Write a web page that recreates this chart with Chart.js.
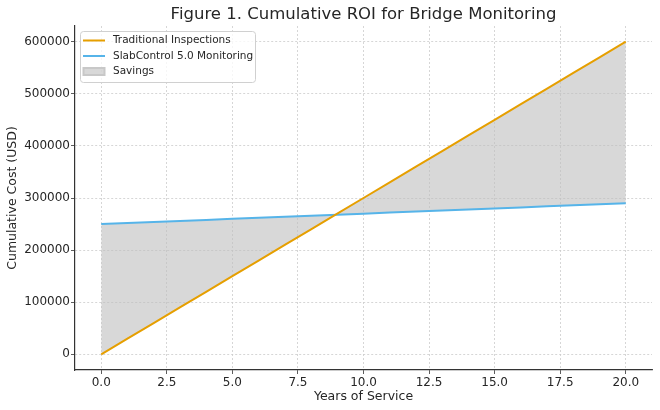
<!DOCTYPE html>
<html lang="en">
<head>
  <meta charset="UTF-8" />
  <title>Cumulative ROI for Bridge Monitoring</title>
  <script src="https://cdn.jsdelivr.net/npm/chart.js"></script>
  <style>
    html, body { margin: 0; padding: 0; background: #fff; }
    #wrap { width: 660px; height: 410px; }
  </style>
</head>
<body>
  <div id="wrap"><canvas id="roiChart"></canvas></div>

  <script>
    // values
    const years = [0, 1, 2, 3, 4, 5, 6, 7, 8, 9, 10, 11, 12, 13, 14, 15, 16, 17, 18, 19, 20];
    const traditional = [0, 30000, 60000, 90000, 120000, 150000, 180000, 210000, 240000, 270000,
      300000, 330000, 360000, 390000, 420000, 450000, 480000, 510000, 540000, 570000, 600000];
    const slabControl = [250000, 252000, 254000, 256000, 258000, 260000, 262000, 264000, 266000, 268000,
      270000, 272000, 274000, 276000, 278000, 280000, 282000, 284000, 286000, 288000, 290000];
    const xTicks = [0, 2.5, 5, 7.5, 10, 12.5, 15, 17.5, 20];
    const yTicks = [0, 100000, 200000, 300000, 400000, 500000, 600000];

    const FONT = "'DejaVu Sans', sans-serif";
    const ORANGE = '#E69F00';
    const BLUE = '#56B4E9';
    const GREY_FILL = 'rgba(190,190,190,0.6)';

    // title centred over the plot area, like matplotlib
    const titlePlugin = {
      id: 'plotTitle',
      afterDraw(chart) {
        const { ctx, chartArea } = chart;
        ctx.save();
        ctx.font = '16.5px ' + FONT;
        ctx.fillStyle = '#262626';
        ctx.textAlign = 'center';
        ctx.textBaseline = 'middle';
        ctx.fillText('Figure 1. Cumulative ROI for Bridge Monitoring', (chartArea.left + chartArea.right) / 2, 15);
        ctx.restore();
      }
    };

    // legend box inside the plot, upper left
    const legendPlugin = {
      id: 'innerLegend',
      afterDraw(chart) {
        const { ctx, chartArea } = chart;
        const x = chartArea.left + 5, y = chartArea.top + 5;
        const w = 175, h = 51;
        ctx.save();
        ctx.fillStyle = 'rgba(255,255,255,0.8)';
        ctx.strokeStyle = '#d0d0d0';
        ctx.lineWidth = 1;
        ctx.beginPath();
        ctx.roundRect(x + 0.5, y + 0.5, w, h, 3);
        ctx.fill();
        ctx.stroke();

        ctx.font = '10.5px ' + FONT;
        ctx.textBaseline = 'middle';
        chart.data.datasets.forEach((ds, i) => {
          const cy = y + 9.5 + i * 15.5;
          if (ds.legendKind === 'patch') {
            ctx.fillStyle = ds.backgroundColor;
            ctx.strokeStyle = '#c8c8c8';
            ctx.fillRect(x + 3, cy - 4, 22, 8);
            ctx.strokeRect(x + 3.5, cy - 3.5, 21, 7);
          } else {
            ctx.strokeStyle = ds.borderColor;
            ctx.lineWidth = 2;
            ctx.beginPath();
            ctx.moveTo(x + 3, cy);
            ctx.lineTo(x + 25, cy);
            ctx.stroke();
          }
          ctx.fillStyle = '#262626';
          ctx.fillText(ds.label, x + 33, cy);
        });
        ctx.restore();
      }
    };

    const ctx = document.getElementById('roiChart').getContext('2d');
    new Chart(ctx, {
      type: 'line',
      data: {
        labels: years,
        datasets: [
          {
            label: 'Traditional Inspections',
            data: traditional,
            borderColor: ORANGE,
            borderWidth: 2,
            pointRadius: 0,
            fill: false,
            order: 1
          },
          {
            label: 'SlabControl 5.0 Monitoring',
            data: slabControl,
            borderColor: BLUE,
            borderWidth: 2,
            pointRadius: 0,
            fill: false,
            order: 2
          },
          {
            label: 'Savings',
            legendKind: 'patch',
            data: traditional,
            borderWidth: 0,
            borderColor: 'rgba(0,0,0,0)',
            backgroundColor: GREY_FILL,
            pointRadius: 0,
            fill: 1,
            order: 3
          }
        ]
      },
      options: {
        responsive: true,
        maintainAspectRatio: false,
        animation: false,
        layout: { padding: { top: 26, right: 8, left: 5, bottom: 6 } },
        plugins: {
          legend: { display: false },
          title: { display: false },
          tooltip: { enabled: false },
          filler: { drawTime: 'beforeDatasetsDraw' }
        },
        scales: {
          x: {
            type: 'linear',
            min: -1,
            max: 21,
            afterBuildTicks: scale => { scale.ticks = xTicks.map(v => ({ value: v })); },
            afterFit: scale => { scale.height = 34; },
            ticks: {
              callback: v => v.toFixed(1),
              color: '#262626',
              font: { family: FONT, size: 12 },
              padding: 2,
              maxRotation: 0
            },
            grid: { color: '#cccccc', lineWidth: 0.8, tickColor: '#333', tickLength: 4 },
            border: { display: true, color: '#333', width: 1.2, dash: [2, 2] },
            title: {
              display: true,
              text: 'Years of Service',
              color: '#262626',
              font: { family: FONT, size: 12.5 },
              padding: { top: 0, bottom: 0 }
            }
          },
          y: {
            min: -30000,
            max: 630000,
            afterBuildTicks: scale => { scale.ticks = yTicks.map(v => ({ value: v })); },
            afterFit: scale => { scale.width = 70; },
            ticks: {
              callback: v => String(v),
              color: '#262626',
              font: { family: FONT, size: 12 },
              padding: 1
            },
            grid: { color: '#cccccc', lineWidth: 0.8, tickColor: '#333', tickLength: 4 },
            border: { display: true, color: '#333', width: 1.2, dash: [2, 2] },
            title: {
              display: true,
              text: 'Cumulative Cost (USD)',
              color: '#262626',
              font: { family: FONT, size: 12.5 },
              padding: { top: 0, bottom: 4 }
            }
          }
        }
      },
      plugins: [titlePlugin, legendPlugin]
    });
  </script>
</body>
</html>
